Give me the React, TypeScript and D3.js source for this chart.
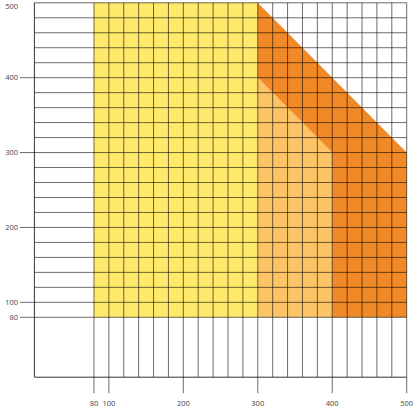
import React from "react";
import * as d3 from "d3";

const xTickValues = [80, 100, 200, 300, 400, 500];
const yTickValues = [80, 100, 200, 300, 400, 500];
const gridStart = 80;
const gridEnd = 500;
const gridStep = 20;

// Regions (data coordinates)
const yellowRegion: [number, number][] = [[80, 80], [80, 500], [300, 500], [300, 80]];
const lightOrangeRegion: [number, number][] = [[300, 80], [300, 400], [400, 300], [400, 80]];
const darkOrangeRegion: [number, number][] = [[300, 400], [300, 500], [500, 300], [500, 80], [400, 80], [400, 300]];

const regions = [
  { points: yellowRegion, color: "#FFE96B" },
  { points: lightOrangeRegion, color: "#FCC467" },
  { points: darkOrangeRegion, color: "#F18A26" },
];

export default function App() {
  const W = 417, H = 412;
  const x = d3.scaleLinear().domain([0, 500]).range([34.4, 406.7]);
  const y = d3.scaleLinear().domain([0, 500]).range([377.2, 2.8]);
  const gridVals = d3.range(gridStart, gridEnd + 1, gridStep);
  const line = d3.line<[number, number]>().x(d => x(d[0])).y(d => y(d[1]));
  const gridStroke = "rgba(0,0,0,0.58)";
  const font = "'Open Sans', 'Liberation Sans', sans-serif";

  return (
    <svg width={W} height={H} style={{ position: "absolute", left: 0, top: 0 }}>
      <rect x={0} y={0} width={W} height={H} fill="#fff" />
      {regions.map((r, i) => (
        <path key={i} d={line(r.points) + "Z"} fill={r.color} />
      ))}
      {gridVals.map(v => (
        <line key={"h" + v} x1={x(0)} x2={x(500)} y1={y(v)} y2={y(v)} stroke={gridStroke} strokeWidth={1} />
      ))}
      {gridVals.map(v => (
        <line key={"v" + v} x1={x(v)} x2={x(v)} y1={y(0)} y2={y(500)} stroke={gridStroke} strokeWidth={1} />
      ))}
      <line x1={x(0)} x2={x(0)} y1={y(0)} y2={y(500)} stroke="#333" strokeWidth={1} />
      <line x1={x(0)} x2={x(500)} y1={y(0)} y2={y(0)} stroke="#333" strokeWidth={1} />
      {xTickValues.map(v => (
        <g key={"xt" + v}>
          <line x1={x(v)} x2={x(v)} y1={y(0)} y2={y(0) + 16} stroke={gridStroke} strokeWidth={1} />
          <text x={x(v)} y={405.5} fontSize={7.5} fill="#444" textAnchor="middle" fontFamily={font}>{v}</text>
        </g>
      ))}
      {yTickValues.map(v => (
        <g key={"yt" + v}>
          {v < 500 && <line x1={20} x2={x(0)} y1={y(v)} y2={y(v)} stroke={gridStroke} strokeWidth={1} />}
          <text x={18} y={Math.max(y(v), 6) + 2.6} fontSize={7.5} fill="#444" textAnchor="end" fontFamily={font}>{v}</text>
        </g>
      ))}
    </svg>
  );
}
